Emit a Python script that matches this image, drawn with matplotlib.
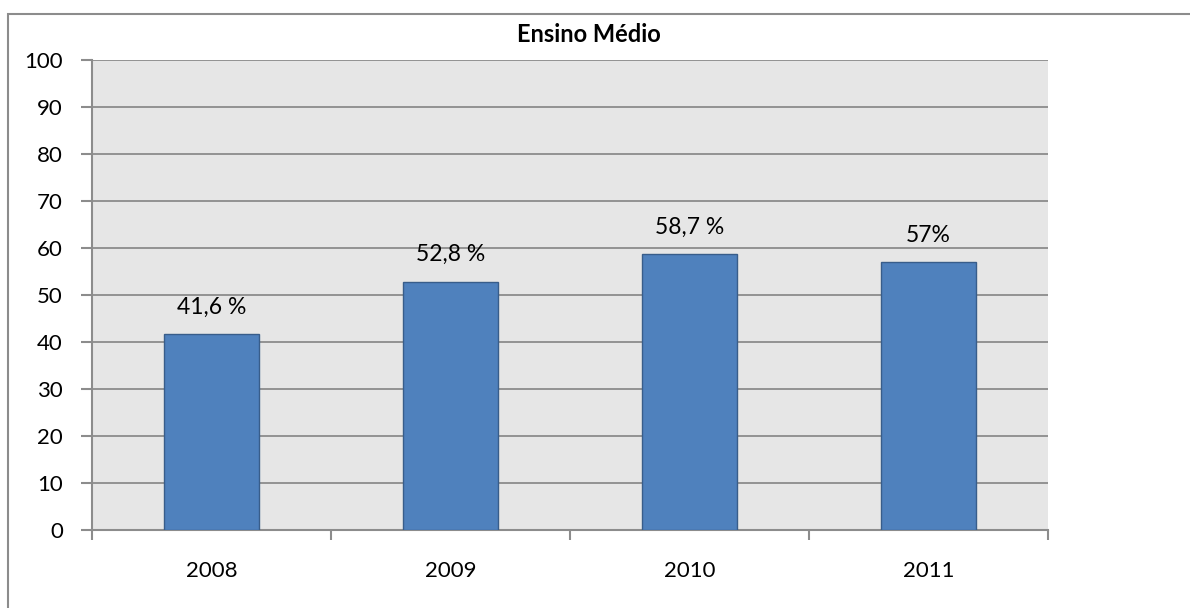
import matplotlib
matplotlib.use("Agg")
import matplotlib.pyplot as plt
from matplotlib.patches import Rectangle
from matplotlib.ticker import FixedLocator, NullFormatter

years = ["2008", "2009", "2010", "2011"]
values = [41.6, 52.8, 58.7, 57.0]
labels = ["41,6 %", "52,8 %", "58,7 %", "57%"]
title = "Ensino Médio"

plt.rcParams['font.family'] = ['Lato', 'DejaVu Sans']

W, H = 1190, 608
fig = plt.figure(figsize=(W / 100, H / 100), dpi=100)
fig.patch.set_facecolor("white")

# outer chart frame (only left and top visible)
fig.add_artist(Rectangle((8 / W, -0.1), 1.2, (H - 14) / H + 0.1, transform=fig.transFigure,
                         fill=False, edgecolor="#8c8c8c", linewidth=1.5))

ax = fig.add_axes([92 / W, 1 - 530 / H, (1048 - 92) / W, (530 - 60) / H])
ax.set_facecolor("#e6e6e6")

x = list(range(len(years)))
ax.bar(x, values, width=0.4, color="#4f81bd", edgecolor="#385d8a", linewidth=1.0, zorder=3)

ax.set_xlim(-0.5, len(years) - 0.5)
ax.set_ylim(0, 100)
ax.set_yticks(range(0, 101, 10))
ax.yaxis.grid(True, color="#8c8c8c", linewidth=1.3, zorder=0)
ax.set_axisbelow(True)

ax.set_xticks(x)
ax.set_xticklabels(years)
ax.tick_params(axis="x", length=0, pad=22, labelsize=16)
ax.xaxis.set_minor_locator(FixedLocator([i - 0.5 for i in range(len(years) + 1)]))
ax.xaxis.set_minor_formatter(NullFormatter())
ax.tick_params(axis="x", which="minor", length=7, width=1.5, color="#8c8c8c", direction="out")
ax.tick_params(axis="y", length=8, width=1.5, color="#8c8c8c", labelsize=16, pad=13)

for side in ["top", "right"]:
    ax.spines[side].set_visible(False)
for side in ["left", "bottom"]:
    ax.spines[side].set_color("#8c8c8c")
    ax.spines[side].set_linewidth(1.5)

for xi, v, lab in zip(x, values, labels):
    ax.annotate(lab, (xi, v), xytext=(0, 27), textcoords="offset pixels",
                ha="center", va="center", fontsize=16.5, color="black")

fig.text(589 / W, 1 - 35 / H, title, ha="center", va="center", fontsize=17, fontweight="bold")

fig.savefig("out.png", dpi=100)
